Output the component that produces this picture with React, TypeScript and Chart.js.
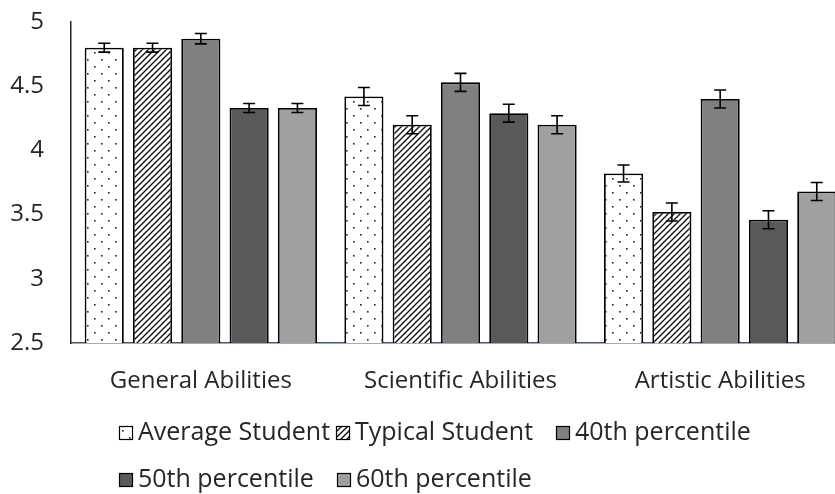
import React, { useEffect, useRef } from "react";
import { Chart, registerables } from "chart.js";

Chart.register(...registerables);

const CATEGORIES = ["General Abilities", "Scientific Abilities", "Artistic Abilities"];
const SERIES_NAMES = ["Average Student", "Typical Student", "40th percentile", "50th percentile", "60th percentile"];
const AVERAGE_STUDENT = [4.8, 4.42, 3.82];
const TYPICAL_STUDENT = [4.8, 4.2, 3.52];
const P40 = [4.87, 4.53, 4.4];
const P50 = [4.33, 4.29, 3.46];
const P60 = [4.33, 4.2, 3.68];
const ERR_AVERAGE = [0.035, 0.07, 0.066];
const ERR_TYPICAL = [0.035, 0.07, 0.07];
const ERR_P40 = [0.04, 0.07, 0.07];
const ERR_P50 = [0.035, 0.07, 0.07];
const ERR_P60 = [0.035, 0.07, 0.07];
const Y_TICKS = [2.5, 3, 3.5, 4, 4.5, 5];

const FONT = "'Open Sans', 'Noto Sans', sans-serif";
const SOLID_COLORS = ["#808080", "#595959", "#a0a0a0"];
// legend layout: [x, y] of each swatch's left / centre line
const LEGEND_LAYOUT = [
  [119, 433],
  [336, 433],
  [556, 433],
  [119, 480],
  [337, 480],
];

function makeDots(): CanvasPattern | string {
  const c = document.createElement("canvas");
  c.width = 14;
  c.height = 14;
  const g = c.getContext("2d")!;
  g.fillStyle = "#ffffff";
  g.fillRect(0, 0, 14, 14);
  g.fillStyle = "#222";
  g.fillRect(3, 3, 1.6, 1.6);
  g.fillRect(10, 10, 1.6, 1.6);
  return g.createPattern(c, "repeat") || "#fff";
}

function makeHatch(): CanvasPattern | string {
  const s = 6;
  const c = document.createElement("canvas");
  c.width = s;
  c.height = s;
  const g = c.getContext("2d")!;
  g.fillStyle = "#ffffff";
  g.fillRect(0, 0, s, s);
  g.strokeStyle = "#111";
  g.lineWidth = 1.4;
  g.beginPath();
  g.moveTo(-1, s + 1);
  g.lineTo(s + 1, -1);
  g.moveTo(-1, 1);
  g.lineTo(1, -1);
  g.moveTo(s - 1, s + 1);
  g.lineTo(s + 1, s - 1);
  g.stroke();
  return g.createPattern(c, "repeat") || "#fff";
}

export default function App() {
  const ref = useRef<HTMLCanvasElement | null>(null);

  useEffect(() => {
    const canvas = ref.current;
    if (!canvas) return;
    const values = [AVERAGE_STUDENT, TYPICAL_STUDENT, P40, P50, P60];
    const errors = [ERR_AVERAGE, ERR_TYPICAL, ERR_P40, ERR_P50, ERR_P60];
    const fills: (CanvasPattern | string)[] = [makeDots(), makeHatch(), ...SOLID_COLORS];

    const errorBars = {
      id: "errorBars",
      afterDatasetsDraw(chart: any) {
        const ctx = chart.ctx;
        const y = chart.scales.y;
        ctx.save();
        ctx.strokeStyle = "#000";
        ctx.lineWidth = 1.6;
        chart.data.datasets.forEach((ds: any, i: number) => {
          const meta = chart.getDatasetMeta(i);
          meta.data.forEach((bar: any, j: number) => {
            const v = ds.data[j];
            const e = errors[i][j];
            const yTop = y.getPixelForValue(v + e);
            const yBot = y.getPixelForValue(v - e);
            const cap = 6;
            ctx.beginPath();
            ctx.moveTo(bar.x, yTop);
            ctx.lineTo(bar.x, yBot);
            ctx.moveTo(bar.x - cap, yTop);
            ctx.lineTo(bar.x + cap, yTop);
            ctx.moveTo(bar.x - cap, yBot);
            ctx.lineTo(bar.x + cap, yBot);
            ctx.stroke();
          });
        });
        ctx.restore();
      },
    };

    const legendPlugin = {
      id: "sideLegend",
      afterDraw(chart: any) {
        const ctx = chart.ctx;
        ctx.save();
        ctx.font = `25px ${FONT}`;
        ctx.textBaseline = "middle";
        chart.data.datasets.forEach((ds: any, i: number) => {
          const [x, yc] = LEGEND_LAYOUT[i];
          const s = 14;
          ctx.fillStyle = ds.backgroundColor;
          ctx.fillRect(x, yc - s / 2, s, s);
          ctx.strokeStyle = "#000";
          ctx.lineWidth = 1.2;
          ctx.strokeRect(x + 0.5, yc - s / 2 + 0.5, s - 1, s - 1);
          ctx.fillStyle = "#262626";
          ctx.fillText(ds.label, x + s + 5, yc);
        });
        ctx.restore();
      },
    };

    const chart = new Chart(canvas, {
      type: "bar",
      data: {
        labels: CATEGORIES,
        datasets: SERIES_NAMES.map((name, i) => ({
          label: name,
          data: values[i],
          backgroundColor: fills[i] as any,
          borderColor: "#000",
          borderWidth: 1.8,
          categoryPercentage: 0.93,
          barPercentage: 0.81,
        })),
      },
      options: {
        responsive: false,
        animation: false,
        devicePixelRatio: 1,
        layout: { padding: { top: 22, left: 0, right: 0, bottom: 0 } },
        plugins: {
          legend: { display: false },
          tooltip: { enabled: false },
        },
        scales: {
          x: {
            grid: { display: false, drawTicks: false },
            border: { display: true, color: "#41587a", width: 1.5 },
            ticks: { font: { family: FONT, size: 24 }, color: "#262626", padding: 24 },
            afterFit(scale: any) {
              scale.height = 494 - 343;
            },
          },
          y: {
            min: 2.5,
            max: 5,
            grid: { display: false, drawTicks: false },
            border: { display: true, color: "#262626", width: 1.5 },
            afterBuildTicks(scale: any) {
              scale.ticks = Y_TICKS.map((v) => ({ value: v }));
            },
            ticks: {
              font: { family: FONT, size: 24 },
              color: "#262626",
              padding: 27,
              callback: (v: any) => String(v),
            },
            afterFit(scale: any) {
              scale.width = 71;
              scale.paddingTop = 0;
              scale.paddingBottom = 0;
            },
          },
        },
      },
      plugins: [errorBars, legendPlugin],
    });
    return () => chart.destroy();
  }, []);

  return (
    <div style={{ position: "fixed", left: 0, top: 0, width: 835, height: 494, overflow: "hidden", background: "#fff" }}>
      <canvas ref={ref} width={850} height={494} style={{ display: "block" }} />
    </div>
  );
}
